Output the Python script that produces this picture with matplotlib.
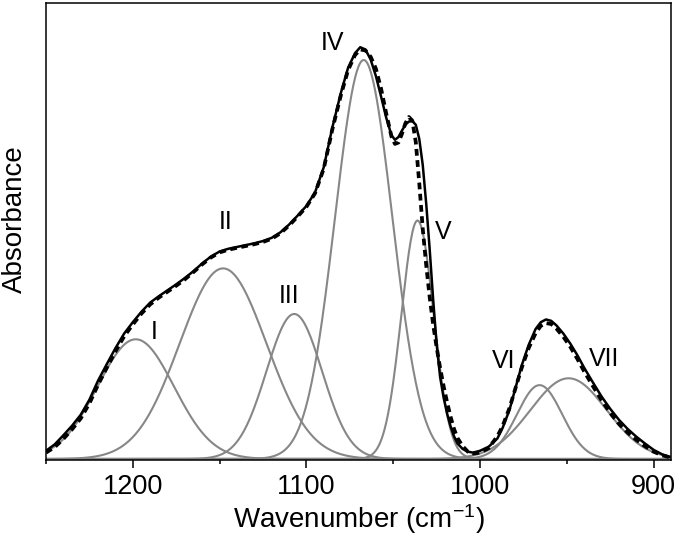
import numpy as np
import matplotlib
matplotlib.use("Agg")
import matplotlib.pyplot as plt

plt.rcParams["font.family"] = ["Liberation Sans", "DejaVu Sans"]
plt.rcParams["mathtext.fontset"] = "custom"
plt.rcParams["mathtext.rm"] = "Liberation Sans"
plt.rcParams["mathtext.it"] = "Liberation Sans:italic"

# spectrum samples (cm-1), measured (solid) and fitted envelope (dashed)
wavenumber = [1250, 1245, 1240, 1235, 1230, 1225, 1220, 1215, 1210, 1205,
              1200, 1195, 1190, 1185, 1180, 1175, 1170, 1165, 1160, 1155,
              1150, 1145, 1140, 1135, 1130, 1125, 1120, 1115, 1110, 1105,
              1100, 1095, 1090, 1085, 1080, 1076, 1072, 1069, 1066, 1063,
              1060, 1057, 1054, 1051, 1049, 1047, 1045, 1043, 1041, 1039,
              1037, 1035, 1033, 1031, 1029, 1027, 1025, 1023, 1021, 1019,
              1017, 1015, 1013, 1010, 1007, 1004, 1000, 995, 990, 987,
              983, 980, 976, 972, 968, 965, 962, 959, 956, 952,
              948, 944, 940, 935, 930, 925, 920, 915, 910, 905,
              900, 895, 891]
measured = [0.018, 0.032, 0.052, 0.073, 0.097, 0.130, 0.172, 0.208, 0.243, 0.275,
            0.300, 0.323, 0.343, 0.357, 0.370, 0.383, 0.397, 0.412, 0.429, 0.444,
            0.455, 0.461, 0.465, 0.469, 0.473, 0.478, 0.485, 0.497, 0.514, 0.534,
            0.555, 0.585, 0.640, 0.728, 0.805, 0.858, 0.890, 0.903, 0.898, 0.876,
            0.840, 0.795, 0.748, 0.710, 0.700, 0.706, 0.720, 0.733, 0.740, 0.741,
            0.733, 0.702, 0.645, 0.560, 0.460, 0.350, 0.252, 0.180, 0.135, 0.100,
            0.072, 0.050, 0.034, 0.022, 0.016, 0.014, 0.018, 0.027, 0.045, 0.068,
            0.108, 0.150, 0.205, 0.250, 0.285, 0.300, 0.306, 0.303, 0.293, 0.275,
            0.253, 0.228, 0.200, 0.168, 0.137, 0.110, 0.086, 0.066, 0.049, 0.034,
            0.020, 0.010, 0.005]
fitted = [0.014, 0.026, 0.044, 0.065, 0.089, 0.122, 0.163, 0.200, 0.236, 0.269,
          0.295, 0.319, 0.339, 0.354, 0.367, 0.380, 0.394, 0.410, 0.427, 0.442,
          0.453, 0.459, 0.463, 0.467, 0.471, 0.476, 0.483, 0.495, 0.512, 0.532,
          0.553, 0.583, 0.637, 0.724, 0.800, 0.853, 0.886, 0.898, 0.896, 0.882,
          0.856, 0.812, 0.757, 0.707, 0.691, 0.694, 0.713, 0.736, 0.750, 0.742,
          0.695, 0.605, 0.505, 0.425, 0.355, 0.295, 0.245, 0.200, 0.160, 0.125,
          0.093, 0.066, 0.046, 0.028, 0.016, 0.012, 0.014, 0.024, 0.050, 0.072,
          0.112, 0.150, 0.200, 0.243, 0.276, 0.292, 0.298, 0.296, 0.286, 0.268,
          0.246, 0.220, 0.192, 0.160, 0.129, 0.101, 0.077, 0.058, 0.042, 0.028,
          0.016, 0.008, 0.004]

# gaussian components I..VII
band_names = ["I", "II", "III", "IV", "V", "VI", "VII"]
band_center = [1198.3, 1148.0, 1107.0, 1067.0, 1036.0, 965.7, 949.0]
band_height = [0.2625, 0.418, 0.318, 0.875, 0.523, 0.162, 0.177]
band_sigma = [22.0, 25.0, 16.0, 16.5, 9.3, 13.0, 22.0]

# label anchor (wavenumber, absorbance)
label_x = [1187.8, 1146.6, 1110.1, 1085.2, 1021.1, 986.2, 928.4]
label_y = [0.279, 0.520, 0.358, 0.913, 0.497, 0.216, 0.219]

fig = plt.figure(figsize=(6.75, 5.36), dpi=100)
ax = fig.add_axes([46 / 675, 76 / 536, 625 / 675, 457 / 536])

xs = np.linspace(1250, 890, 721)
for c, h, s in zip(band_center, band_height, band_sigma):
    ax.plot(xs, h * np.exp(-0.5 * ((xs - c) / s) ** 2), color="#878787", lw=1.5)

ax.plot(wavenumber, measured, color="black", lw=1.8)
ax.plot(wavenumber, fitted, color="black", lw=2.7, ls=(0, (1.8, 1.2)))

for name, x, y in zip(band_names, label_x, label_y):
    ax.text(x, y, name, fontsize=18, ha="center", va="center")

ax.set_xlim(1250, 890)
ax.set_ylim(-0.0022, 1.0)
ax.set_xticks([1200, 1100, 1000, 900])
ax.set_xticks([1250, 1150, 1050, 950], minor=True)
ax.set_yticks([])
ax.tick_params(axis="x", which="major", direction="out", length=6, width=1.1,
               labelsize=19.5, pad=4)
ax.tick_params(axis="x", which="minor", direction="out", length=3.2, width=1.1)
for sp in ax.spines.values():
    sp.set_linewidth(1.1)

ax.set_xlabel(r"Wavenumber (cm$^{-1}$)", fontsize=20, labelpad=2)
ax.set_ylabel("Absorbance", fontsize=20)
ax.yaxis.set_label_coords(-0.029, 0.528)

fig.savefig("out.png")
